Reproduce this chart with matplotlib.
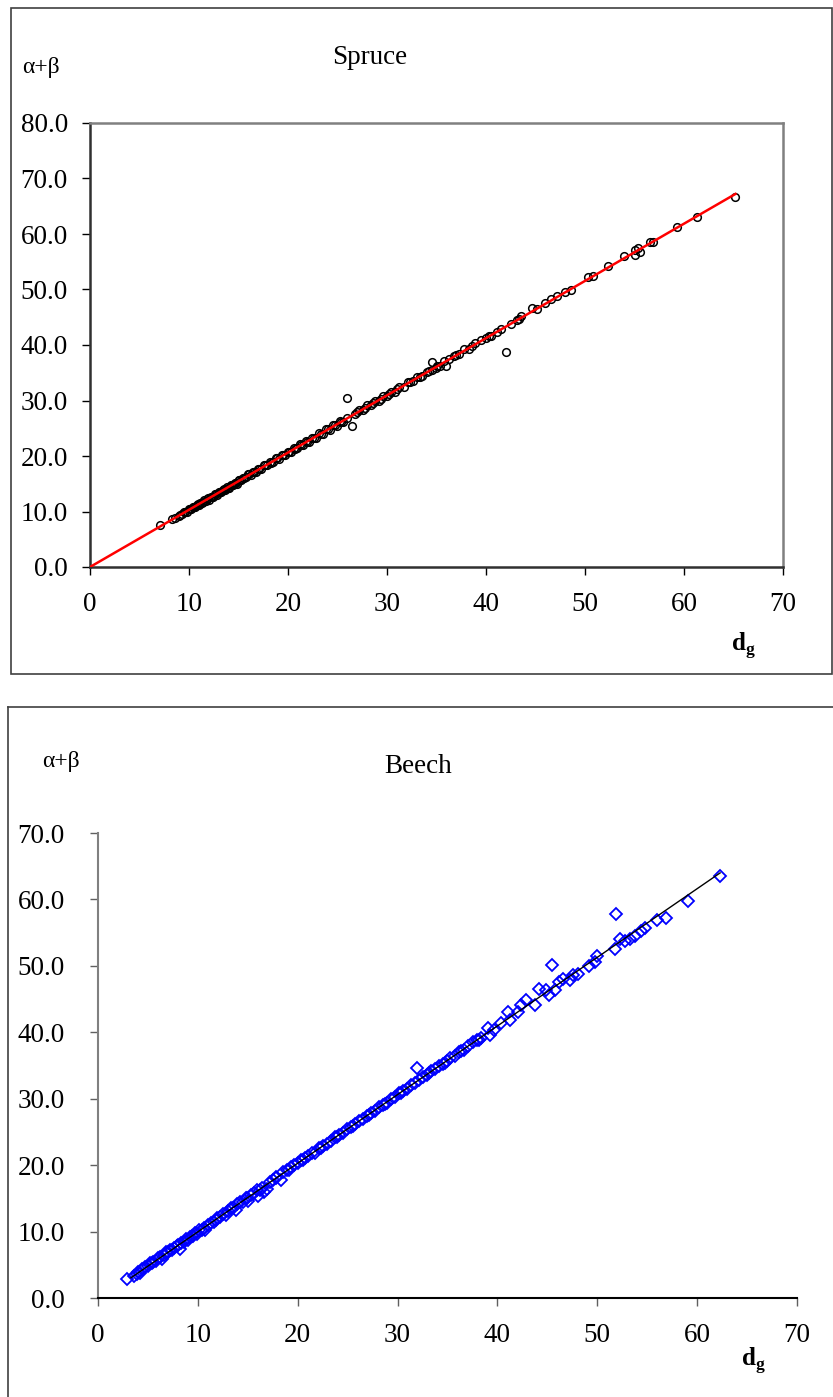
import numpy as np
import matplotlib
matplotlib.use('Agg')
import matplotlib.pyplot as plt
from matplotlib.lines import Line2D

plt.rcParams['font.family'] = ['Liberation Serif', 'DejaVu Serif']
plt.rcParams['mathtext.fontset'] = 'custom'
plt.rcParams['mathtext.rm'] = 'Liberation Serif'
plt.rcParams['mathtext.bf'] = 'Liberation Serif:bold'

# spruce: d_g vs alpha+beta
spruce_dg = [7.1, 8.3, 8.6, 9.0, 9.3, 9.5, 9.8, 10.0, 10.2, 10.4, 10.6, 10.8, 11.0, 11.1, 11.3,
             11.5, 11.7, 11.9, 12.0, 12.2, 12.4, 12.6, 12.8, 13.0, 13.2, 13.4, 13.6, 13.8, 14.0,
             14.2, 14.4, 14.6, 14.8, 15.0, 15.3, 15.5, 15.8, 16.0, 16.3, 16.5, 16.8, 17.0, 17.3,
             17.6, 17.9, 18.2, 18.5, 18.8, 19.1, 19.4, 19.7, 20.0, 20.3, 20.6, 20.9, 21.2, 21.5,
             21.8, 22.1, 22.4, 22.8, 23.1, 23.5, 23.8, 24.2, 24.5, 24.9, 25.3, 25.6, 26.0, 26.0,
             26.5, 26.8, 27.2, 27.6, 28.0, 28.4, 28.8, 29.2, 29.6, 30.0, 30.4, 30.8, 31.2, 31.7,
             32.1, 32.6, 33.0, 33.5, 34.0, 34.5, 34.5, 34.9, 35.4, 35.8, 36.0, 36.3, 36.8, 37.3,
             37.8, 38.3, 38.9, 39.5, 40.0, 40.5, 41.1, 42.0, 42.5, 43.1, 43.5, 44.6, 45.2, 46.0,
             46.6, 47.2, 48.0, 48.6, 50.3, 50.8, 52.3, 53.9, 55.0, 55.0, 55.4, 55.6, 56.6, 56.9,
             59.3, 61.3, 65.2,
             9.1, 9.6, 10.1, 10.5, 10.9, 11.4, 11.8, 12.3, 12.7, 13.1, 13.5, 13.9, 14.3, 14.7,
             15.1, 15.6, 16.1, 16.6, 17.1, 17.7, 18.3, 18.9, 19.5, 20.1, 20.7, 21.3, 21.9, 22.6,
             23.3, 24.0, 24.7, 25.4, 27.0, 27.8, 28.6, 29.4, 30.2, 31.0, 32.3, 33.3, 34.2, 35.1,
             37.0, 38.6, 40.3, 41.5, 43.3]
spruce_ab = [7.6, 8.6, 8.8, 9.2, 9.5, 9.9, 10.0, 10.4, 10.4, 10.9, 10.8, 11.2, 11.2, 11.6, 11.5,
             12.0, 11.9, 12.4, 12.1, 12.7, 12.6, 13.1, 13.0, 13.6, 13.5, 13.9, 13.8, 14.4, 14.3,
             14.8, 14.7, 15.2, 14.9, 15.6, 15.7, 16.1, 16.2, 16.7, 16.6, 17.2, 17.2, 17.7, 17.7,
             18.3, 18.4, 18.9, 19.0, 19.6, 19.5, 20.2, 20.2, 20.8, 20.8, 21.5, 21.4, 22.1, 22.0,
             22.7, 22.6, 23.3, 23.3, 24.1, 24.0, 24.8, 24.7, 25.5, 25.4, 26.3, 26.2, 30.4, 26.8,
             25.4, 27.5, 28.3, 28.3, 29.1, 29.2, 29.9, 30.0, 30.8, 30.8, 31.6, 31.6, 32.4, 32.5,
             33.3, 33.5, 34.2, 34.4, 35.2, 36.9, 35.5, 35.9, 36.3, 37.2, 36.2, 37.4, 38.1, 38.4,
             39.2, 39.3, 40.3, 40.9, 41.2, 41.7, 42.3, 38.7, 43.8, 44.5, 45.2, 46.6, 46.4, 47.5,
             48.2, 48.8, 49.6, 49.9, 52.3, 52.5, 54.2, 56.0, 57.2, 56.2, 57.5, 56.8, 58.6, 58.5,
             61.2, 63.0, 66.7,
             9.3, 9.9, 10.5, 10.8, 11.3, 11.7, 12.2, 12.7, 13.1, 13.5, 14.0, 14.3, 14.8, 15.1,
             15.6, 16.0, 16.7, 17.1, 17.6, 18.3, 18.8, 19.6, 20.1, 20.8, 21.3, 22.0, 22.6, 23.3,
             24.0, 24.8, 25.5, 26.2, 27.9, 28.6, 29.6, 30.3, 31.2, 32.0, 33.4, 34.3, 35.3, 36.2,
             38.2, 39.8, 41.6, 42.8, 44.7]

# beech: d_g vs alpha+beta
beech_dg = [2.9, 3.6, 3.9, 4.2, 4.4, 4.7, 5.0, 5.2, 5.5, 5.8, 6.0, 6.2, 6.4, 6.6, 6.8, 7.0, 7.2,
            7.4, 7.6, 7.9, 8.2, 8.3, 8.6, 8.8, 9.0, 9.2, 9.5, 9.7, 9.9, 10.1, 10.4, 10.7, 11.0,
            11.3, 11.6, 11.9, 12.2, 12.5, 12.8, 13.0, 13.3, 13.8, 13.9, 14.2, 14.5, 14.8, 15.0,
            15.3, 15.6, 15.9, 16.0, 16.4, 16.6, 16.9, 17.2, 17.5, 17.8, 18.3, 18.5, 18.9, 19.3,
            19.6, 20.0, 20.3, 20.7, 21.0, 21.4, 21.7, 22.1, 22.5, 22.9, 23.3, 23.7, 24.1, 24.5,
            24.9, 25.3, 25.7, 26.1, 26.5, 26.9, 27.3, 27.7, 28.1, 28.5, 28.9, 29.3, 29.7, 30.1,
            30.5, 30.9, 31.3, 31.7, 31.9, 32.1, 32.5, 32.9, 33.3, 33.7, 34.1, 34.5, 34.9, 35.3,
            35.8, 36.2, 36.7, 37.1, 37.6, 38.0, 38.4, 39.1, 39.3, 39.7, 40.4, 41.1, 41.3, 42.1,
            42.4, 42.9, 43.8, 44.2, 44.9, 45.2, 45.5, 45.8, 46.2, 46.6, 47.3, 47.6, 48.1, 49.2,
            49.8, 50.0, 51.8, 51.9, 52.3, 52.8, 53.3, 53.8, 54.4, 54.8, 56.0, 56.9, 59.1, 62.3,
            4.0, 5.4, 6.9, 8.0, 9.4, 10.6, 11.8, 13.5, 14.9, 16.2, 17.8, 19.1, 20.5, 22.3,
            23.9, 25.5, 27.1, 28.7, 30.3, 33.1, 34.7, 36.4, 38.2]
beech_ab = [2.8, 3.3, 3.6, 3.8, 4.3, 4.6, 4.8, 5.2, 5.4, 5.6, 6.0, 6.2, 5.9, 6.5, 7.0, 6.9, 7.3,
            7.3, 7.6, 7.9, 7.4, 8.3, 8.5, 8.9, 8.7, 9.2, 9.4, 9.8, 9.7, 10.2, 10.3, 10.2, 11.0,
            11.3, 11.5, 12.1, 12.2, 12.6, 12.5, 13.1, 13.5, 13.2, 14.1, 14.5, 14.5, 15.0, 14.6,
            15.5, 15.8, 16.2, 15.4, 16.6, 16.0, 16.4, 17.5, 17.8, 18.2, 17.7, 18.9, 19.2, 19.7,
            20.0, 20.3, 20.7, 21.1, 21.4, 21.9, 21.9, 22.6, 22.9, 23.2, 23.7, 24.2, 24.5, 24.8,
            25.5, 25.7, 26.2, 26.6, 27.0, 27.4, 27.8, 28.2, 28.7, 29.1, 29.4, 30.0, 30.3, 30.8,
            31.1, 31.5, 32.0, 32.3, 34.6, 32.8, 33.2, 33.5, 34.1, 34.4, 34.9, 35.2, 35.7, 36.1,
            36.5, 37.1, 37.4, 38.0, 38.6, 38.9, 39.1, 40.6, 39.6, 40.4, 41.4, 43.1, 41.8, 43.1,
            44.1, 44.9, 44.1, 46.5, 46.4, 45.6, 50.1, 46.3, 47.5, 48.0, 47.9, 48.6, 48.8, 50.0,
            50.6, 51.5, 52.6, 57.8, 54.0, 53.7, 54.0, 54.5, 55.3, 55.7, 56.9, 57.2, 59.8, 63.5,
            3.9, 5.2, 6.7, 8.0, 9.3, 10.6, 11.8, 13.6, 15.1, 16.3, 18.0, 19.3, 20.8, 22.6,
            24.3, 25.9, 27.6, 29.2, 30.9, 33.8, 35.4, 37.2, 38.9]

W, H = 833, 1397
fig = plt.figure(figsize=(W / 100, H / 100), dpi=100)


def fx(px):
    return px / W


def fy(py):
    return 1 - py / H


# outer frames round each chart
fig.add_artist(plt.Rectangle((fx(11), fy(674)), fx(832) - fx(11), fy(8) - fy(674),
                             transform=fig.transFigure, fill=False, ec='#404040', lw=1.2))
fig.add_artist(Line2D([fx(8), fx(8)], [fy(707), fy(1400)], transform=fig.transFigure,
                      color='#404040', lw=1.2))
fig.add_artist(Line2D([fx(8), fx(833)], [fy(707), fy(707)], transform=fig.transFigure,
                      color='#404040', lw=1.2))

FS = 19.5

# --- Spruce ---
ax1 = fig.add_axes([fx(90), fy(567), fx(783) - fx(90), fy(123) - fy(567)])
x1 = np.array(spruce_dg)
y1 = np.array(spruce_ab)
ax1.plot(x1, y1, 'o', ms=5.5, mfc='none', mec='black', mew=1.1, zorder=2)
k = np.sum(x1 * y1) / np.sum(x1 * x1)
xl = np.array([0, x1.max()])
ax1.plot(xl, k * xl, color='red', lw=1.8, zorder=3)
ax1.set_xlim(0, 70)
ax1.set_ylim(0, 80)
ax1.set_xticks(range(0, 71, 10))
ax1.set_yticks(np.arange(0, 81, 10))
ax1.set_yticklabels(['%.1f' % v for v in np.arange(0, 81, 10)])
for s in ['top', 'right']:
    ax1.spines[s].set_color('#808080')
    ax1.spines[s].set_linewidth(1.8)
for s in ['left', 'bottom']:
    ax1.spines[s].set_color('#303030')
    ax1.spines[s].set_linewidth(1.8)
ax1.tick_params(direction='out', length=6, width=1, labelsize=FS, pad=10, colors='black')
ax1.tick_params(axis='x', pad=12)
fig.text(fx(370), fy(57), 'Spruce', ha='center', va='center', fontsize=FS)
fig.text(fx(22), fy(67), 'α+β', ha='left', va='center', fontsize=17)
fig.text(fx(731), fy(651), r'$\mathbf{d}_\mathbf{g}$', ha='left', va='baseline', fontsize=18)

# --- Beech ---
ax2 = fig.add_axes([fx(98), fy(1298), fx(797) - fx(98), fy(833) - fy(1298)])
x2 = np.array(beech_dg)
y2 = np.array(beech_ab)
ax2.plot(x2, y2, 'D', ms=6, mfc='none', mec='#0000ff', mew=1.3, zorder=2)
b1, b0 = np.polyfit(x2, y2, 1)
xl2 = np.array([3.3, x2.max()])
ax2.plot(xl2, b1 * xl2 + b0, color='black', lw=1.0, zorder=3)
ax2.set_xlim(0, 70)
ax2.set_ylim(0, 70)
ax2.set_xticks(range(0, 71, 10))
ax2.set_yticks(np.arange(0, 71, 10))
ax2.set_yticklabels(['%.1f' % v for v in np.arange(0, 71, 10)])
ax2.spines['top'].set_visible(False)
ax2.spines['right'].set_visible(False)
ax2.spines['left'].set_color('#808080')
ax2.spines['left'].set_linewidth(1.5)
ax2.spines['bottom'].set_color('black')
ax2.spines['bottom'].set_linewidth(1.5)
ax2.tick_params(direction='out', length=6, width=1, labelsize=FS, colors='black')
ax2.tick_params(axis='y', pad=18, color='#606060')
ax2.tick_params(axis='x', pad=12, color='#606060')
fig.text(fx(418), fy(766), 'Beech', ha='center', va='center', fontsize=FS)
fig.text(fx(42), fy(761), 'α+β', ha='left', va='center', fontsize=17)
fig.text(fx(741), fy(1366), r'$\mathbf{d}_\mathbf{g}$', ha='left', va='baseline', fontsize=18)

fig.savefig('out.png', dpi=100)
